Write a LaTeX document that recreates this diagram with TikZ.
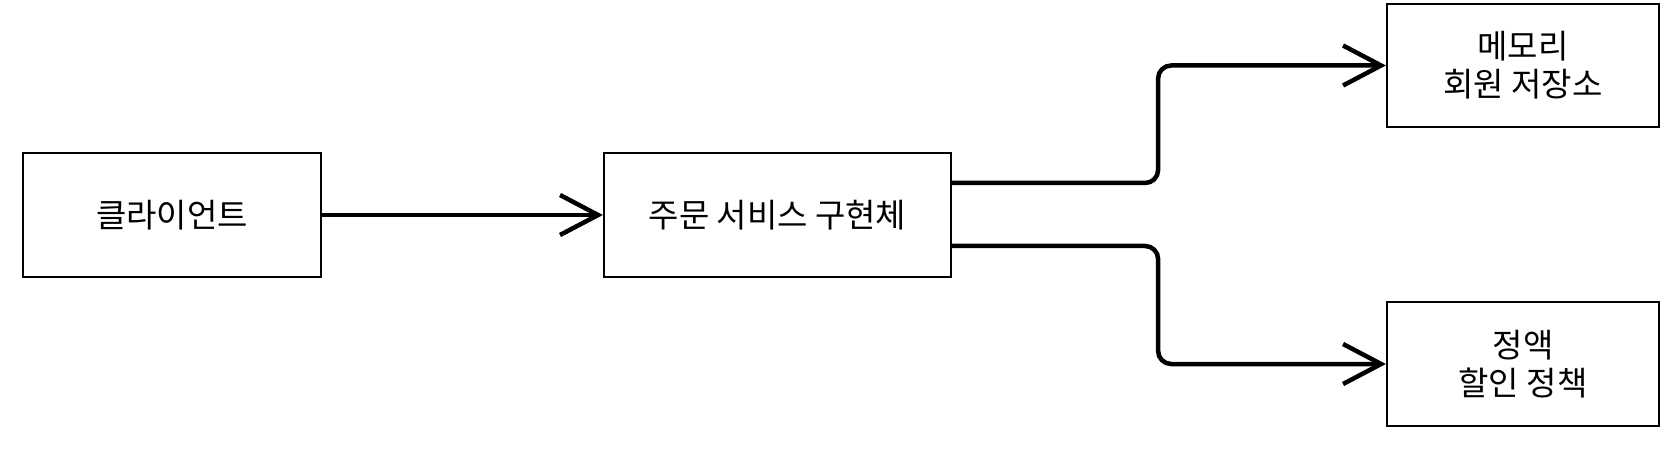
\documentclass[tikz,border=0pt]{standalone}
\usepackage{fontspec}
\setmainfont{Noto Sans CJK KR}
\usetikzlibrary{arrows.meta}
\tikzset{
  box/.style={draw=black, line width=2.2pt, fill=white, inner sep=0pt, align=center,
    font=\fontsize{33}{38}\selectfont},
  conn/.style={draw=black, line width=4.5pt, rounded corners=13pt,
    -{Straight Barb[length=38pt, width=40pt]}}
}
\begin{document}
\begin{tikzpicture}[x=1pt, y=-1pt]
\useasboundingbox (0,0) rectangle (1678,462);
\node[box, minimum width=298pt, minimum height=124pt] (client) at (172,215) {클라이언트};
\node[box, minimum width=347pt, minimum height=124pt] (svc) at (777.5,215) {주문 서비스 구현체};
\node[box, minimum width=272pt, minimum height=123pt] (mem) at (1523,65.5) {메모리\\회원 저장소};
\node[box, minimum width=272pt, minimum height=124pt] (disc) at (1523,364) {정액\\할인 정책};
\draw[conn] (client.east) -- (svc.west);
\draw[conn] ([yshift=32pt]svc.east) -- ++(206,0) |- (mem.west);
\draw[conn] ([yshift=-31pt]svc.east) -- ++(206,0) |- (disc.west);
\end{tikzpicture}
\end{document}
